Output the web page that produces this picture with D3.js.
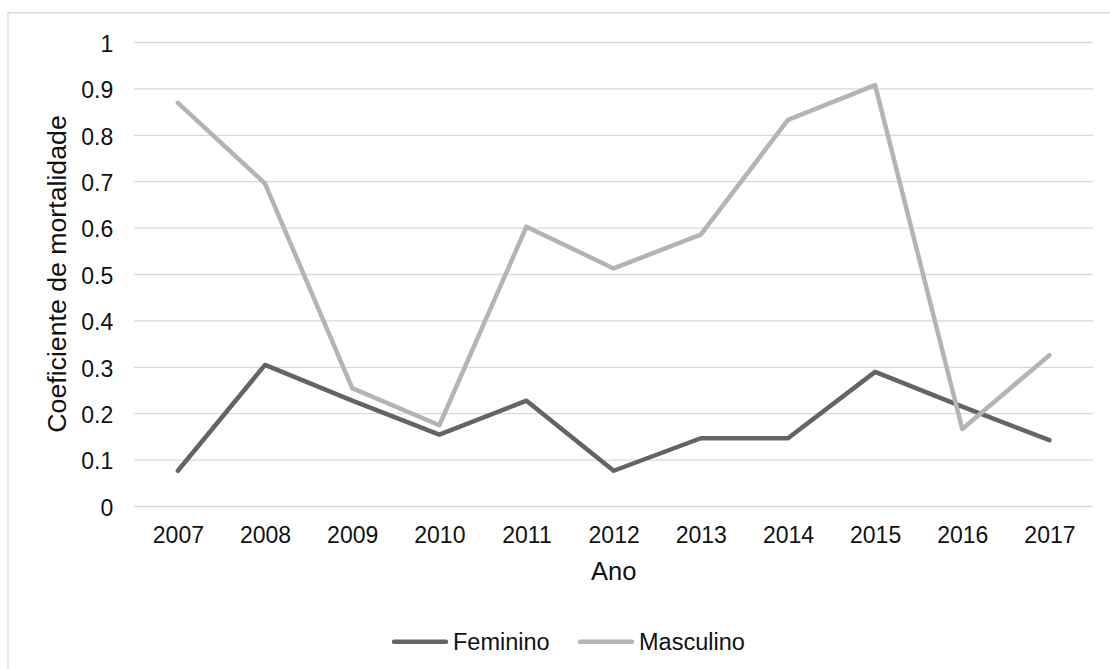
<!DOCTYPE html>
<html>
<head>
<meta charset="utf-8">
<script src="https://cdn.jsdelivr.net/npm/d3@7"></script>
<style>
  html, body { margin: 0; padding: 0; background: #fff; }
  svg { display: block; font-family: "Liberation Sans", Arial, sans-serif; }
</style>
</head>
<body>
<svg id="chart" width="1110" height="669"></svg>
<script>
// Mortality coefficient by year and sex
const years = ["2007","2008","2009","2010","2011","2012","2013","2014","2015","2016","2017"];
const feminino  = [0.076, 0.304, 0.227, 0.154, 0.227, 0.076, 0.146, 0.146, 0.289, 0.214, 0.142];
const masculino = [0.869, 0.695, 0.254, 0.174, 0.602, 0.512, 0.585, 0.832, 0.907, 0.166, 0.325];
const yTicks = [0, 0.1, 0.2, 0.3, 0.4, 0.5, 0.6, 0.7, 0.8, 0.9, 1];
const seriesNames = ["Feminino", "Masculino"];
const seriesColors = ["#646464", "#b4b4b4"];

const svg = d3.select("#chart");
const plot = { left: 134.3, right: 1093, top: 42, bottom: 506 };

// outer chart frame
svg.append("rect")
  .attr("x", 8).attr("y", 12.7)
  .attr("width", 1120).attr("height", 680)
  .attr("fill", "none").attr("stroke", "#d9d9d9").attr("stroke-width", 1.3);

const x = d3.scalePoint().domain(years).range([plot.left, plot.right]).padding(0.5);
const y = d3.scaleLinear().domain([0, 1]).range([plot.bottom, plot.top]);

// horizontal gridlines + y tick labels
const yAxis = svg.append("g")
  .attr("transform", `translate(${plot.left},0)`)
  .call(d3.axisLeft(y).tickValues(yTicks).tickFormat(d3.format("~g"))
        .tickSize(-(plot.right - plot.left)).tickPadding(21));
yAxis.select(".domain").remove();
yAxis.selectAll(".tick line").attr("stroke", "#d9d9d9").attr("stroke-width", 1.3);
yAxis.selectAll(".tick text")
  .attr("font-size", 23).attr("fill", "#111")
  .attr("font-family", "'Liberation Sans', Arial, sans-serif")
  .attr("dy", "0.4em");

// x tick labels
const xAxis = svg.append("g")
  .attr("transform", `translate(0,${plot.bottom})`)
  .call(d3.axisBottom(x).tickSize(0).tickPadding(20.5));
xAxis.select(".domain").remove();
xAxis.selectAll(".tick text")
  .attr("font-size", 23).attr("fill", "#111")
  .attr("font-family", "'Liberation Sans', Arial, sans-serif")
  .attr("dy", "0.71em");

// axis titles
svg.append("text")
  .attr("x", (plot.left + plot.right) / 2).attr("y", 580)
  .attr("text-anchor", "middle").attr("font-size", 25.5).attr("fill", "#111")
  .text("Ano");
svg.append("text")
  .attr("transform", `translate(65.5,${(plot.top + plot.bottom) / 2}) rotate(-90)`)
  .attr("text-anchor", "middle").attr("font-size", 26.7).attr("fill", "#111")
  .text("Coeficiente de mortalidade");

// series lines
const line = d3.line().x((d, i) => x(years[i])).y(d => y(d));
[feminino, masculino].forEach((vals, k) => {
  svg.append("path")
    .datum(vals)
    .attr("d", line)
    .attr("fill", "none")
    .attr("stroke", seriesColors[k])
    .attr("stroke-width", 4.5)
    .attr("stroke-linejoin", "round")
    .attr("stroke-linecap", "round");
});

// legend
const legendX = [394, 580];
const legendY = 641.7;
seriesNames.forEach((name, k) => {
  const g = svg.append("g").attr("transform", `translate(${legendX[k]},${legendY})`);
  g.append("line")
    .attr("x1", 0).attr("x2", 52).attr("y1", 0).attr("y2", 0)
    .attr("stroke", seriesColors[k]).attr("stroke-width", 4.5)
    .attr("stroke-linecap", "round");
  g.append("text")
    .attr("x", 59).attr("y", 8)
    .attr("font-size", 23.5).attr("fill", "#111")
    .text(name);
});
</script>
</body>
</html>
